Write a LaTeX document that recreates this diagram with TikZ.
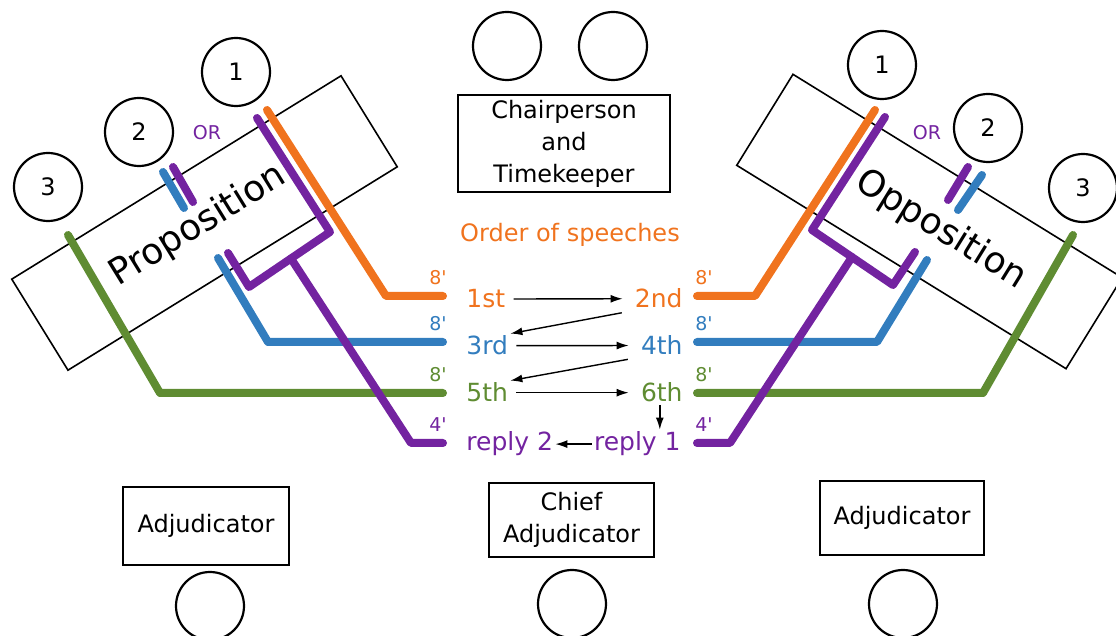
\documentclass[tikz,border=0pt]{standalone}
\usepackage{fontspec}
\setmainfont{DejaVu Sans}
\usepackage{tikz}
\usetikzlibrary{arrows.meta}
\definecolor{firstcol}{RGB}{240,115,30}
\definecolor{secondcol}{RGB}{50,125,190}
\definecolor{thirdcol}{RGB}{95,140,50}
\definecolor{replycol}{RGB}{115,35,160}

\begin{document}
\begin{tikzpicture}[x=0.5pt, y=-0.5pt,
		every node/.style={font=\fontsize{12}{16}\selectfont, inner sep=1pt, align=center},
		seat/.style={draw, circle, line width=1.1pt, minimum size=34pt},
		box/.style={draw, line width=1pt, minimum width=82.5pt, minimum height=37pt},
		bench/.style={draw, line width=0.8pt, minimum width=193.5pt, minimum height=53.5pt},
		benchtext/.style={font=\fontsize{18}{20}\selectfont},
		speech/.style={font=\fontsize{12.5}{16}\selectfont},
		wire/.style={line width=4pt, line cap=round, line join=round},
		mins/.style={font=\fontsize{9.5}{10}\selectfont},
		arr/.style={-{Latex[length=6pt, width=4pt]}, line width=0.7pt}]
	\useasboundingbox (0,0) rectangle (1116,636);
	\node[seat] (chairA) at (507,46) {};
	\node[seat] (chairB) at (613,46) {};
	\node[box, minimum width=106pt, minimum height=48.5pt] (chair) at (564,143.5) {Chairperson\\and\\Timekeeper};
	\node[bench, rotate=31.7] (prop) at (204.5,223) {};
	\node[benchtext, rotate=31.7] (proptext) at (198,226) {Proposition};
	\node[bench, rotate=-31.7] (opp) at (929.5,221.5) {};
	\node[benchtext, rotate=-31.7] (opptext) at (941,230) {Opposition};
	\node[seat] (prop1) at (236,72) {1};
	\node[seat] (prop2) at (139,132) {2};
	\node[seat] (prop3) at (48,187) {3};
	\node[seat] (opp1) at (882,65) {1};
	\node[seat] (opp2) at (988,128) {2};
	\node[seat] (opp3) at (1083,188) {3};
	\node[mins, text=replycol] (propor) at (207,133) {OR};
	\node[mins, text=replycol] (oppor) at (927,133) {OR};
	\node[box, minimum width=83pt, minimum height=39pt] (adjL) at (206,526) {Adjudicator};
	\node[box] (chief) at (571.5,520) {Chief\\Adjudicator};
	\node[box, minimum width=82pt] (adjR) at (902,518) {Adjudicator};
	\node[seat] (adjLseat) at (210,606) {};
	\node[seat] (chiefseat) at (572,604) {};
	\node[seat] (adjRseat) at (903,604) {};
	\node[text=firstcol] (order) at (570,235) {Order of speeches};
	\node[speech, text=firstcol, anchor=base west] (s1) at (464,308) {1st};
	\node[speech, text=firstcol, anchor=base east] (s2) at (685,308) {2nd};
	\node[speech, text=secondcol, anchor=base west] (s3) at (464,355) {3rd};
	\node[speech, text=secondcol, anchor=base east] (s4) at (685,355) {4th};
	\node[speech, text=thirdcol, anchor=base west] (s5) at (464,402) {5th};
	\node[speech, text=thirdcol, anchor=base east] (s6) at (685,402) {6th};
	\node[speech, text=replycol, anchor=base west] (r2) at (464,451) {reply 2};
	\node[speech, text=replycol, anchor=base east] (r1) at (683,451) {reply 1};
	\draw[arr, shorten <=3pt, shorten >=5pt] (s1) -- (s2);
	\draw[arr, shorten <=5.5pt] (s2.south west) -- (s3.north east);
	\draw[arr, shorten <=3pt, shorten >=5pt] (s3) -- (s4);
	\draw[arr, shorten <=5.5pt] (s4.south west) -- (s5.north east);
	\draw[arr, shorten <=3pt, shorten >=5pt] (s5) -- (s6);
	\draw[arr] ([xshift=-1pt]s6.south) -- ([xshift=-1pt]s6.south |- r1.north);
	\draw[arr] (r1) -- (r2);
	\coordinate (wo1) at (443,296);
	\coordinate (wb1) at (443,342);
	\coordinate (wg1) at (443,393);
	\coordinate (wp1) at (443,443);
	\coordinate (wo2) at (697,296);
	\coordinate (wb2) at (697,342);
	\coordinate (wg2) at (697,393);
	\coordinate (wp2) at (697,443);
	\draw[wire, firstcol] (267,110) -- (386,296) -- (wo1);
	\draw[wire, secondcol] (218,258) -- (268,342) -- (wb1);
	\draw[wire, thirdcol] (68,235) -- (160,393) -- (wg1);
	\draw[wire, replycol] (257,118) -- (330,232) -- (249,287) -- (228,253);
	\draw[wire, replycol] (291,258.5) -- (411,443) -- (wp1);
	\draw[wire, replycol] (173,167) -- (193,202);
	\draw[wire, secondcol] (163,172) -- (184,208);
	\draw[wire, firstcol] (875,110) -- (755,296) -- (wo2);
	\draw[wire, secondcol] (927,260) -- (877,342) -- (wb2);
	\draw[wire, thirdcol] (1073,235) -- (983,393) -- (wg2);
	\draw[wire, replycol] (885,117) -- (812,230) -- (893,285) -- (915,252);
	\draw[wire, replycol] (852,257) -- (730,443) -- (wp2);
	\draw[wire, replycol] (968,167) -- (948,200);
	\draw[wire, secondcol] (982,175) -- (958,210);
	\node[mins, text=firstcol, anchor=south east, xshift=3pt, yshift=4.5pt] (mo1) at (wo1) {8\textquotesingle};
	\node[mins, text=secondcol, anchor=south east, xshift=3pt, yshift=4.5pt] (mb1) at (wb1) {8\textquotesingle};
	\node[mins, text=thirdcol, anchor=south east, xshift=3pt, yshift=4.5pt] (mg1) at (wg1) {8\textquotesingle};
	\node[mins, text=replycol, anchor=south east, xshift=3pt, yshift=4.5pt] (mp1) at (wp1) {4\textquotesingle};
	\node[mins, text=firstcol, anchor=south west, xshift=-2pt, yshift=4.5pt] (mo2) at (wo2) {8\textquotesingle};
	\node[mins, text=secondcol, anchor=south west, xshift=-2pt, yshift=4.5pt] (mb2) at (wb2) {8\textquotesingle};
	\node[mins, text=thirdcol, anchor=south west, xshift=-2pt, yshift=4.5pt] (mg2) at (wg2) {8\textquotesingle};
	\node[mins, text=replycol, anchor=south west, xshift=-2pt, yshift=4.5pt] (mp2) at (wp2) {4\textquotesingle};
\end{tikzpicture}
\end{document}
